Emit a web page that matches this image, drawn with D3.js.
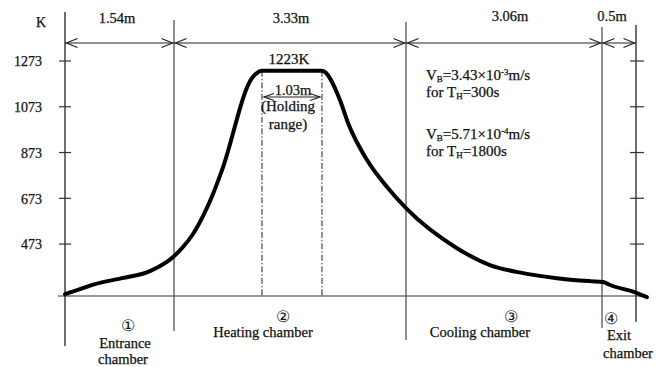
<!DOCTYPE html>
<html><head><meta charset="utf-8">
<script src="https://cdn.jsdelivr.net/npm/d3@7"></script>
<style>
body{margin:0;background:#fff;}
svg text{font-family:"Liberation Serif","Times New Roman",serif;fill:#111;stroke:#111;stroke-width:0.25px;}
</style></head>
<body><svg id="c" width="672" height="367"></svg>
<script>
// ---- data ----
const zoneBounds = [0, 1.54, 4.87, 7.93, 8.43];            // m
const zoneLengths = ["1.54m", "3.33m", "3.06m", "0.5m"];
const zoneNums = ["①", "②", "③", "④"];
const zoneNames = [["Entrance", "chamber"], ["Heating chamber"], ["Cooling chamber"], ["Exit", "chamber"]];
const tempTicks = [473, 673, 873, 1073, 1273];
const posM  = [0, 0.212, 0.424, 0.805, 1.201, 1.54, 1.669, 1.813, 1.956, 2.100, 2.229, 2.66, 2.72, 2.803, 3.664, 3.923, 4.038, 4.311, 4.598, 4.87, 5.666, 6.181, 6.697, 7.227, 7.743, 7.945, 8.048, 8.444, 8.59];
const tempK = [254, 276, 298, 324, 355, 420, 460, 517, 595, 692, 796, 1199, 1218, 1230, 1230, 1102, 1002, 840, 722, 630, 455, 381, 346, 324, 311, 307, 294, 259, 241];
const holdStart = 2.803, holdEnd = 3.664, holdTemp = "1223K", holdLen = "1.03m";

const svg = d3.select("#c");
const x = d3.scaleLinear().domain(zoneBounds).range([65, 174, 406, 602, 636]);
const y = d3.scaleLinear().domain([246, 1273]).range([296, 61]);
const axisCol = "#333";

// baseline
svg.append("line").attr("x1", 58).attr("x2", 646).attr("y1", y(246)).attr("y2", y(246))
  .attr("stroke", axisCol).attr("stroke-width", 1.2);

// vertical zone lines
const vTop = [12, 20, 22, 27, 25], vBot = [346, 331, 340, 328, 322];
zoneBounds.forEach((b, i) => {
  svg.append("line").attr("x1", x(b)).attr("x2", x(b)).attr("y1", vTop[i]).attr("y2", vBot[i])
    .attr("stroke", i === 0 || i === 4 ? "#222" : "#555").attr("stroke-width", 1.3);
});

// left axis ticks & labels
const yAxis = d3.axisLeft(y).tickValues(tempTicks).tickFormat(d3.format("d")).tickSize(0).tickPadding(0);
const ga = svg.append("g").attr("transform", `translate(${x(0)},0)`).call(yAxis);
ga.select(".domain").remove();
ga.selectAll(".tick text").attr("x", -23).attr("font-size", 14).attr("font-family", "Liberation Serif").attr("fill", "#111").attr("dy", "0.35em");
tempTicks.forEach(t => {
  svg.append("line").attr("x1", x(0) - 6).attr("x2", x(0) + 6).attr("y1", y(t)).attr("y2", y(t)).attr("stroke", axisCol).attr("stroke-width", 1.2);
  svg.append("line").attr("x1", x(8.43) - 6).attr("x2", x(8.43) + 8).attr("y1", y(t)).attr("y2", y(t)).attr("stroke", axisCol).attr("stroke-width", 1.2);
});
svg.append("text").attr("x", 41).attr("y", 27).attr("text-anchor", "middle").attr("font-size", 14).text("K");

// dimension arrows
const arrowY = 43;
svg.append("line").attr("x1", x(0)).attr("x2", x(8.43)).attr("y1", arrowY).attr("y2", arrowY).attr("stroke", "#222").attr("stroke-width", 1.2);
function chevron(px, py, dir, len, h) {
  svg.append("path").attr("d", `M${px + dir * len},${py - h}L${px},${py}L${px + dir * len},${py + h}`)
    .attr("fill", "none").attr("stroke", "#222").attr("stroke-width", 1.2);
}
for (let i = 0; i < 4; i++) {
  const a = x(zoneBounds[i]) + 1.5, b = x(zoneBounds[i + 1]) - 1.5;
  chevron(a, arrowY, 1, 11, 4.5);
  chevron(b, arrowY, -1, 11, 4.5);
  const cx = [117, 291, 510, 612][i];
  svg.append("text").attr("x", cx).attr("y", i < 2 ? 23 : 21).attr("text-anchor", "middle").attr("font-size", 14.5).text(zoneLengths[i]);
}

// holding range dash-dot lines
[holdStart, holdEnd].forEach(m => {
  svg.append("line").attr("x1", x(m)).attr("x2", x(m)).attr("y1", y(1230)).attr("y2", y(246))
    .attr("stroke", "#222").attr("stroke-width", 1).attr("stroke-dasharray", "6,2,1.5,2");
});
svg.append("line").attr("x1", x(holdStart) + 2).attr("x2", x(holdEnd) - 2).attr("y1", 97).attr("y2", 97).attr("stroke", "#222").attr("stroke-width", 1.1);
chevron(x(holdStart) + 2, 97, 1, 10, 3.5);
chevron(x(holdEnd) - 2, 97, -1, 10, 3.5);
const hc = (x(holdStart) + x(holdEnd)) / 2;
svg.append("text").attr("x", hc - 3).attr("y", 64).attr("text-anchor", "middle").attr("font-size", 15).text(holdTemp);
svg.append("text").attr("x", hc + 1).attr("y", 95).attr("text-anchor", "middle").attr("font-size", 14.5).text(holdLen);
svg.append("text").attr("x", hc - 4).attr("y", 111).attr("text-anchor", "middle").attr("font-size", 15).text("(Holding");
svg.append("text").attr("x", hc - 4).attr("y", 129).attr("text-anchor", "middle").attr("font-size", 15).text("range)");

// temperature curve
const line = d3.line().x(d => x(d[0])).y(d => y(d[1])).curve(d3.curveMonotoneX);
svg.append("path").datum(posM.map((m, i) => [m, tempK[i]])).attr("d", line)
  .attr("fill", "none").attr("stroke", "#000").attr("stroke-width", 4).attr("stroke-linejoin", "round").attr("stroke-linecap", "round");

// velocity annotations
function vText(yy, mant, exp) {
  const t = svg.append("text").attr("x", 426).attr("y", yy).attr("font-size", 15);
  t.append("tspan").text("V");
  t.append("tspan").attr("font-size", 9).attr("dy", 2).text("B");
  t.append("tspan").attr("dy", -2).text("=" + mant + "\u00d710");
  t.append("tspan").attr("font-size", 9).attr("dy", -5).text(exp);
  t.append("tspan").attr("dy", 5).text("m/s");
}
function fText(yy, val) {
  const t = svg.append("text").attr("x", 426).attr("y", yy).attr("font-size", 15);
  t.append("tspan").text("for T");
  t.append("tspan").attr("font-size", 9).attr("dy", 2).text("H");
  t.append("tspan").attr("dy", -2).text("=" + val);
}
vText(80, "3.43", "-3"); fText(97, "300s");
vText(139, "5.71", "-4"); fText(156, "1800s");

// chamber labels
const numPos = [[128, 331], [283, 322], [511, 322], [611, 324]];
const namePos = [[[125, 348], [123, 364]], [[263, 337]], [[480, 337]], [[619, 340], [628, 358]]];
zoneNums.forEach((n, i) => {
  svg.append("text").attr("x", numPos[i][0]).attr("y", numPos[i][1]).attr("text-anchor", "middle").attr("font-size", 16).attr("font-family", "DejaVu Sans").style("stroke-width", "0").text(n);
  zoneNames[i].forEach((s, j) => {
    svg.append("text").attr("x", namePos[i][j][0]).attr("y", namePos[i][j][1]).attr("text-anchor", "middle").attr("font-size", 14.5).text(s);
  });
});
</script></body></html>
